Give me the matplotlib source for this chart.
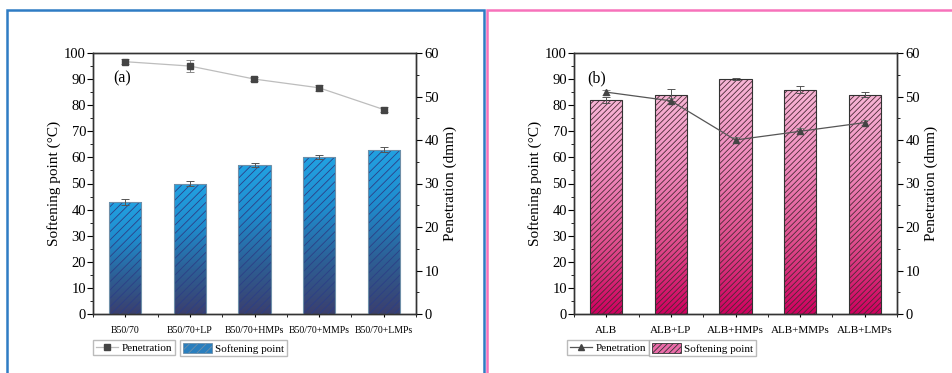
import matplotlib
matplotlib.use('Agg')

import matplotlib.pyplot as plt
import numpy as np
from matplotlib.colors import LinearSegmentedColormap
from matplotlib.patches import Patch, Rectangle
from matplotlib.lines import Line2D
from matplotlib.ticker import MultipleLocator, FixedLocator

plt.rcParams['font.family'] = ['Liberation Serif', 'DejaVu Serif']
plt.rcParams['hatch.linewidth'] = 0.6

# panel (a)
labels_a = ['B50/70', 'B50/70+LP', 'B50/70+HMPs', 'B50/70+MMPs', 'B50/70+LMPs']
soft_a = [43, 50, 57, 60, 63]
soft_err_a = [1.2, 0.8, 0.7, 0.8, 0.9]
pen_a = [58, 57, 54, 52, 47]
pen_err_a = [0.6, 1.4, 0.4, 0.7, 0.5]

# panel (b)
labels_b = ['ALB', 'ALB+LP', 'ALB+HMPs', 'ALB+MMPs', 'ALB+LMPs']
soft_b = [82, 84, 90, 86, 84]
soft_err_b = [1.3, 2.3, 0.4, 1.5, 0.9]
pen_b = [51, 49, 40, 42, 44]
pen_err_b = [0.6, 0.6, 0.8, 0.7, 0.6]

W, H = 952, 373
fig = plt.figure(figsize=(W / 100, H / 100), dpi=100)

# panel frames
fig.patches.append(Rectangle((7 / W, -0.05), 477 / W, 1.05 - 10 / H, transform=fig.transFigure,
                             fill=False, edgecolor='#2f7cc4', linewidth=1.8, zorder=-1))
fig.patches.append(Rectangle((487 / W, -0.05), 0.6, 1.05 - 10 / H, transform=fig.transFigure,
                             fill=False, edgecolor='#f772bb', linewidth=1.8, zorder=-1))


def gradient_bars(ax, x, heights, cmap, hatch, hatch_color, edge):
    grad = np.linspace(0, 1, 256).reshape(-1, 1)
    bars = ax.bar(x, heights, width=0.5, facecolor='none', edgecolor=hatch_color,
                  hatch=hatch, linewidth=0, zorder=3)
    for b in bars:
        x0, w, h = b.get_x(), b.get_width(), b.get_height()
        im = ax.imshow(grad, cmap=cmap, extent=[x0, x0 + w, 0, h], origin='lower',
                       aspect='auto', zorder=2, interpolation='bicubic')
        im.set_clip_path(b)
        ax.add_patch(Rectangle((x0, 0), w, h, fill=False, edgecolor=edge, linewidth=0.8, zorder=4))
    return bars


def panel(left, labels, soft, soft_err, pen, pen_err, cmap, hatch, hatch_color, edge,
          marker, line_color, tag, tag_x, xfs, leg_x, leg_patch):
    ax = fig.add_axes([left / W, 59 / H, 323 / W, 261 / H])
    x = np.arange(len(labels))
    gradient_bars(ax, x, soft, cmap, hatch, hatch_color, edge)
    ax.errorbar(x, soft, yerr=soft_err, fmt='none', ecolor='#555555', elinewidth=0.7,
                capsize=3, capthick=0.7, zorder=5)
    ax.set_xlim(-0.5, 4.5)
    ax.set_ylim(0, 100)
    ax.yaxis.set_major_locator(MultipleLocator(10))
    ax.yaxis.set_minor_locator(MultipleLocator(5))
    ax.set_xticks(x)
    ax.set_xticklabels(labels, fontsize=xfs)
    ax.xaxis.set_minor_locator(FixedLocator(np.arange(-0.5, 5, 1)))
    ax.tick_params(axis='y', which='major', length=4, labelsize=10.5, pad=1)
    ax.tick_params(axis='y', which='minor', length=2.5)
    ax.tick_params(axis='x', which='both', length=2.5, pad=6)
    ax.set_ylabel('Softening point (°C)', fontsize=11, labelpad=2)
    ax.text(tag_x, 90.4, tag, fontsize=11.5, va='center', ha='left')

    ax2 = ax.twinx()
    ax2.errorbar(x, pen, yerr=pen_err, color=line_color, ecolor='#888888', lw=0.9,
                 marker=marker, ms=5, mfc='#444444', mec='#444444', elinewidth=0.7,
                 capsize=3, capthick=0.7, zorder=6)
    ax2.set_ylim(0, 60)
    ax2.yaxis.set_major_locator(MultipleLocator(10))
    ax2.yaxis.set_minor_locator(MultipleLocator(5))
    ax2.tick_params(axis='y', which='major', length=4, labelsize=10.5, pad=2)
    ax2.tick_params(axis='y', which='minor', length=2.5)
    ax2.set_ylabel('Penetration (dmm)', fontsize=11, labelpad=3)
    for a in (ax, ax2):
        for s in a.spines.values():
            s.set_color('#333333')
            s.set_linewidth(1.0)

    h1 = Line2D([], [], color=line_color, lw=0.9, marker=marker, ms=5,
                mfc='#444444', mec='#444444')
    h2 = Patch(facecolor=leg_patch, edgecolor=edge, hatch=hatch, linewidth=0.6)
    common = dict(fontsize=8, frameon=True, fancybox=False, edgecolor='#aaaaaa',
                  borderpad=0.25, handletextpad=0.3, borderaxespad=0,
                  loc='upper left', bbox_transform=fig.transFigure)
    lg1 = ax2.legend([h1], ['Penetration'], handlelength=2.0,
                     bbox_to_anchor=(leg_x[0] / W, 1 - 340 / H), **common)
    ax2.add_artist(lg1)
    ax2.legend([h2], ['Softening point'], handlelength=2.6, handleheight=1.0,
               bbox_to_anchor=(leg_x[1] / W, 1 - 340 / H), **common)
    return ax, ax2


blue = LinearSegmentedColormap.from_list('blue', ['#3b3f6e', '#2d5f95', '#1f8ccd', '#22a2e2'])
pink = LinearSegmentedColormap.from_list('pink', ['#d0005f', '#e0508f', '#f08bbd', '#f8b6d6'])

panel(93, labels_a, soft_a, soft_err_a, pen_a, pen_err_a, blue, '////', '#2c3f86', '#6f8fa8',
      's', '#bdbdbd', '(a)', -0.19, 7, (93, 180), '#2a7fbe')
panel(574, labels_b, soft_b, soft_err_b, pen_b, pen_err_b, pink, '//////', '#4a2a35', '#333333',
      '^', '#555555', '(b)', -0.3, 8, (567, 649), '#ea6ba8')

fig.savefig('out.png', dpi=100)
